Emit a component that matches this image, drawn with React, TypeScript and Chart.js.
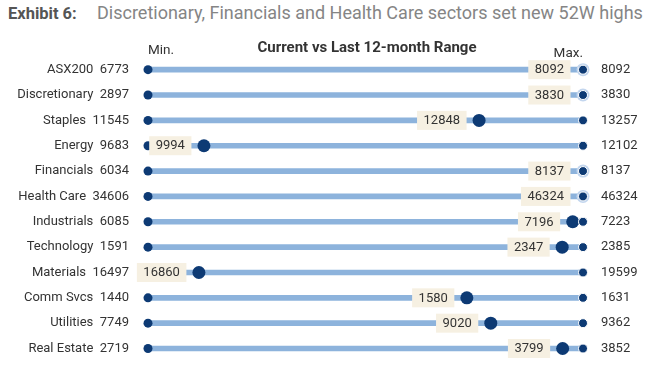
import React, { useEffect, useRef } from "react";
import { Chart, registerables } from "chart.js";

Chart.register(...registerables);

const CATS = [
  "ASX200",
  "Discretionary",
  "Staples",
  "Energy",
  "Financials",
  "Health Care",
  "Industrials",
  "Technology",
  "Materials",
  "Comm Svcs",
  "Utilities",
  "Real Estate",
];
const MINS = [6773, 2897, 11545, 9683, 6034, 34606, 6085, 1591, 16497, 1440, 7749, 2719];
const CURS = [8092, 3830, 12848, 9994, 8137, 46324, 7196, 2347, 16860, 1580, 9020, 3799];
const MAXS = [8092, 3830, 13257, 12102, 8137, 46324, 7223, 2385, 19599, 1631, 9362, 3852];

const HEADER_LABEL = "Exhibit 6:";
const HEADER_TEXT = "Discretionary, Financials and Health Care sectors set new 52W highs";
const CHART_TITLE = "Current vs Last 12-month Range";
const MIN_LABEL = "Min.";
const MAX_LABEL = "Max.";

const POS = CURS.map((c, i) => (c - MINS[i]) / (MAXS[i] - MINS[i]));

const DARK = "#0d3a74";
const LIGHT = "#8db3dc";
const HALO = "#c3d6ee";
const BOX = "#f6f0e2";
const TEXT = "#333333";
const FONT = "Roboto";

export default function App() {
  const ref = useRef<HTMLCanvasElement | null>(null);

  useEffect(() => {
    if (!ref.current) return;

    const boxPlugin = {
      id: "boxes",
      afterDatasetDraw(chart: any, args: any) {
        if (args.index !== 1) return;
        const ctx = chart.ctx;
        const xs = chart.scales.x;
        const ys = chart.scales.y;
        ctx.save();
        ctx.font = `13px ${FONT}`;
        ctx.textAlign = "center";
        ctx.textBaseline = "middle";
        CURS.forEach((c, i) => {
          const x = xs.getPixelForValue(POS[i]);
          const y = ys.getPixelForValue(i);
          const t = String(c);
          const w = ctx.measureText(t).width + 13;
          const h = 19;
          const right = x - 12.5;
          ctx.fillStyle = BOX;
          ctx.fillRect(right - w, y - h / 2, w, h);
          ctx.fillStyle = TEXT;
          ctx.fillText(t, right - w / 2, y + 0.5);
        });
        ctx.restore();
      },
      afterDraw(chart: any) {
        const ctx = chart.ctx;
        const xs = chart.scales.x;
        ctx.save();
        ctx.fillStyle = TEXT;
        ctx.textBaseline = "middle";
        ctx.font = `bold 15px ${FONT}`;
        ctx.textAlign = "center";
        ctx.fillText(CHART_TITLE, (xs.getPixelForValue(0) + xs.getPixelForValue(1)) / 2 + 1.5, 48);
        ctx.font = `13.5px ${FONT}`;
        ctx.textAlign = "left";
        ctx.fillText(MIN_LABEL, xs.getPixelForValue(0), 51);
        ctx.textAlign = "right";
        ctx.fillText(MAX_LABEL, xs.getPixelForValue(1), 54);
        ctx.restore();
      },
    };

    const chart = new Chart(ref.current, {
      type: "bar",
      data: {
        labels: CATS,
        datasets: [
          {
            type: "bar",
            label: "range",
            data: CATS.map(() => [0, 1]) as any,
            backgroundColor: LIGHT,
            barThickness: 5,
            borderSkipped: false,
            order: 10,
            clip: false as any,
          },
          {
            type: "scatter",
            label: "min",
            data: CATS.map((c) => ({ x: 0, y: c })) as any,
            pointRadius: 4.5,
            pointBackgroundColor: DARK,
            pointBorderWidth: 0,
            order: 9,
            clip: false as any,
          },
          {
            type: "scatter",
            label: "current",
            data: CATS.map((c, i) => ({ x: POS[i], y: c })) as any,
            pointRadius: 6.5,
            pointBackgroundColor: POS.map((p) => (p >= 1 ? HALO : DARK)),
            pointBorderWidth: 0,
            order: 8,
            clip: false as any,
          },
          {
            type: "scatter",
            label: "max",
            data: CATS.map((c) => ({ x: 1, y: c })) as any,
            pointRadius: 4.5,
            pointBackgroundColor: DARK,
            pointBorderColor: "#ffffff",
            pointBorderWidth: 1,
            order: 7,
            clip: false as any,
          },
        ],
      },
      options: {
        indexAxis: "y",
        animation: false,
        responsive: false,
        events: [],
        layout: { padding: { top: 57, bottom: 25, left: 0, right: 0 } },
        plugins: {
          legend: { display: false },
          tooltip: { enabled: false },
          title: { display: false },
        },
        scales: {
          x: { type: "linear", min: 0, max: 1, display: false },
          y: {
            type: "category",
            position: "left",
            offset: true,
            grid: { display: false, drawTicks: false },
            border: { display: false },
            ticks: {
              padding: 19,
              color: TEXT,
              font: { family: FONT, size: 13 },
              callback: (_v: any, i: number) => `${CATS[i]}  ${MINS[i]}`,
            },
            afterFit: (s: any) => {
              s.width = 148;
            },
          },
          y2: {
            type: "category",
            position: "right",
            labels: MAXS.map(String),
            offset: true,
            grid: { display: false, drawTicks: false },
            border: { display: false },
            ticks: {
              padding: 18,
              color: TEXT,
              font: { family: FONT, size: 13 },
            },
            afterFit: (s: any) => {
              s.width = 75;
            },
          },
        } as any,
      },
      plugins: [boxPlugin],
    });
    return () => chart.destroy();
  }, []);

  return (
    <div style={{ position: "fixed", left: 0, top: 0, width: 658, height: 388, background: "#fff", fontFamily: FONT }}>
      <div
        style={{
          position: "absolute",
          left: 8,
          top: 4,
          fontSize: 16.5,
          lineHeight: "20px",
          whiteSpace: "nowrap",
        }}
      >
        <span style={{ fontWeight: 700, color: "#555" }}>{HEADER_LABEL}</span>
        <span style={{ position: "absolute", left: 89, top: -1, fontSize: 18, color: "#858585" }}>{HEADER_TEXT}</span>
      </div>
      <canvas ref={ref} width={658} height={388} style={{ position: "absolute", left: 0, top: 0 }} />
    </div>
  );
}
